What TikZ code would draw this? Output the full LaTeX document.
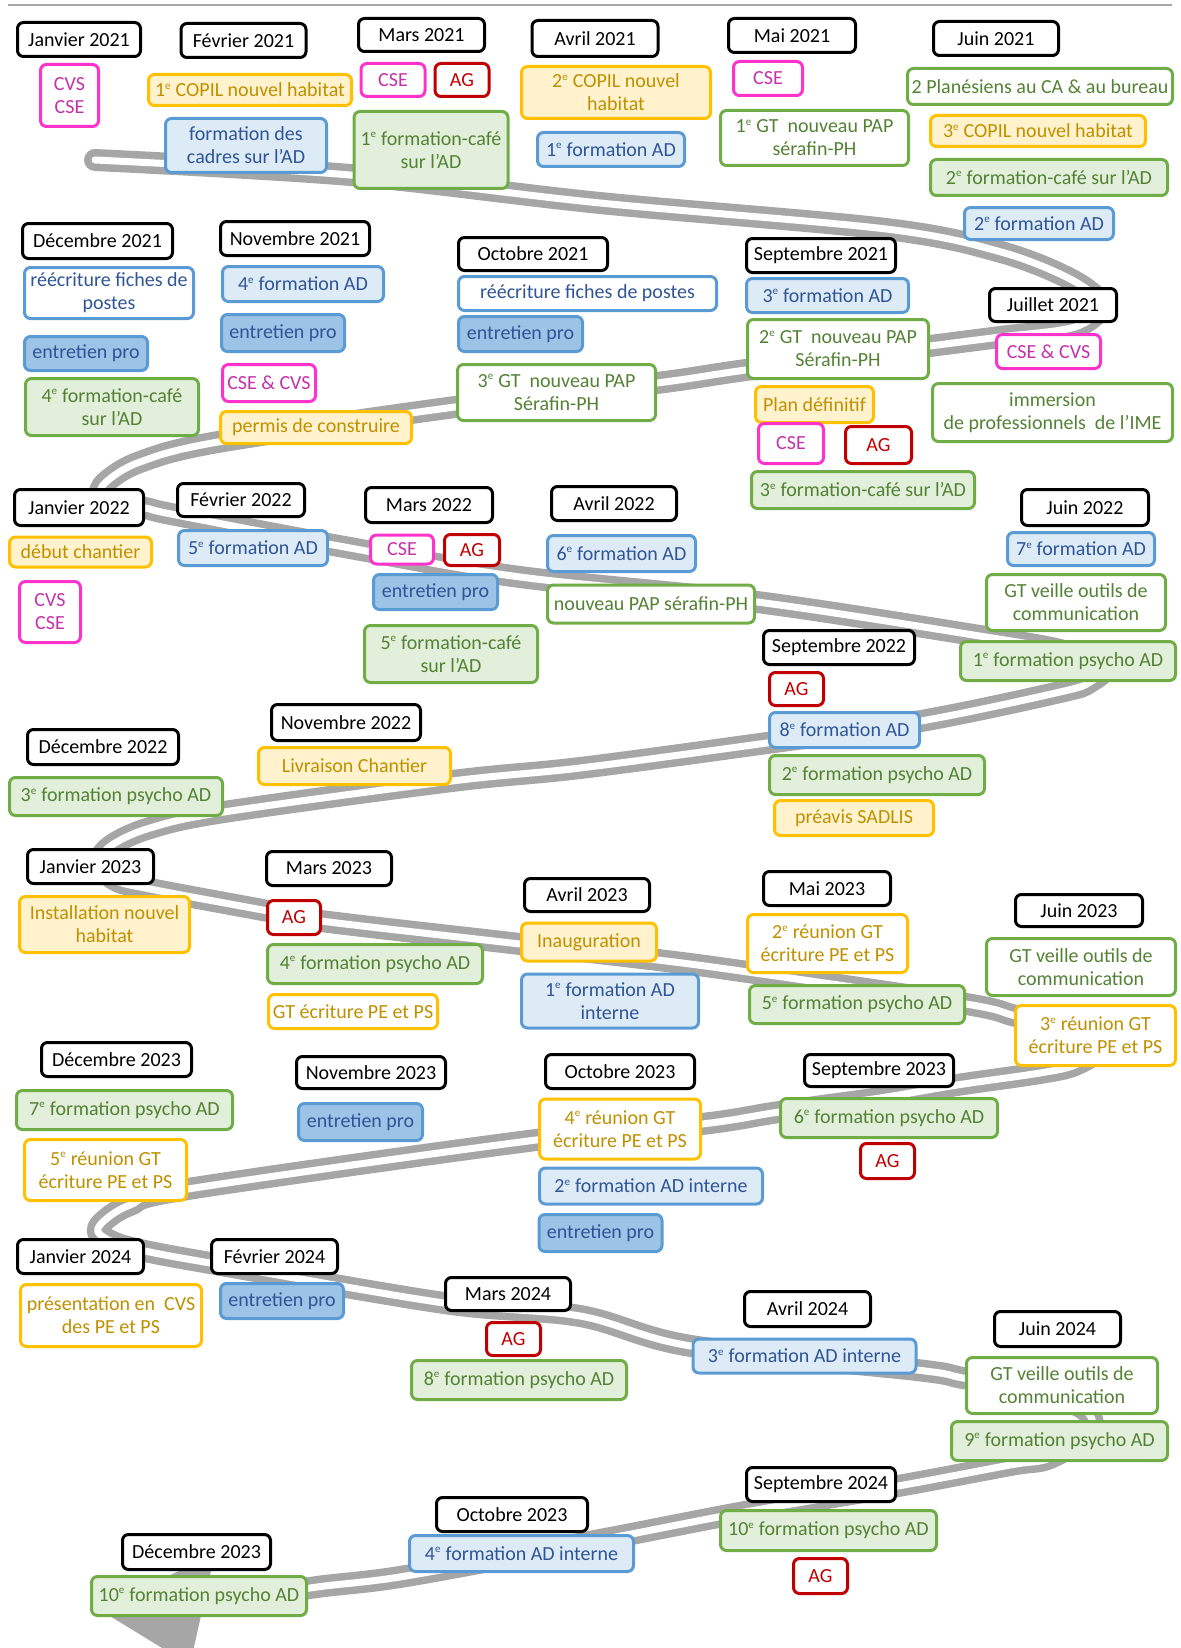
\documentclass[tikz,border=0pt]{standalone}
\usepackage{fontspec}
\setmainfont{Carlito}
\usetikzlibrary{positioning, calc}

\definecolor{roadgray}{RGB}{166,166,166}
\definecolor{pinkline}{RGB}{255,51,204}
\definecolor{pinktext}{RGB}{196,50,170}
\definecolor{agred}{RGB}{192,0,0}
\definecolor{orangeline}{RGB}{255,192,0}
\definecolor{orangefill}{RGB}{255,242,204}
\definecolor{orangetext}{RGB}{191,144,0}
\definecolor{greenline}{RGB}{112,173,71}
\definecolor{greenfill}{RGB}{226,239,218}
\definecolor{greentext}{RGB}{84,130,53}
\definecolor{blueline}{RGB}{91,155,213}
\definecolor{bluefill}{RGB}{221,235,247}
\definecolor{bluedark}{RGB}{157,195,230}
\definecolor{bluetext}{RGB}{47,85,151}

\newcommand{\eme}{\textsuperscript{\fontsize{11}{11}\selectfont e}}
\newcommand{\cadrefont}{\fontsize{20}{23}\selectfont}

\begin{document}
\begin{tikzpicture}[x=1pt, y=-1pt,
    box/.style={draw, rounded corners=6pt, line width=3pt, align=center, inner sep=1pt, font=\cadrefont},
    mois/.style={box, draw=black, fill=white, text=black},
    cvs/.style={box, draw=pinkline, fill=white, text=pinktext},
    ag/.style={box, draw=agred, fill=white, text=agred},
    copil/.style={box, draw=orangeline, fill=orangefill, text=orangetext},
    reunion/.style={box, draw=orangeline, fill=white, text=orangetext},
    cafe/.style={box, draw=greenline, fill=greenfill, text=greentext},
    gt/.style={box, draw=greenline, fill=white, text=greentext},
    formad/.style={box, draw=blueline, fill=bluefill, text=bluetext},
    entretien/.style={box, draw=blueline, fill=bluedark, text=bluetext},
    fiche/.style={box, draw=blueline, fill=white, text=bluetext},
    sz/.style 2 args={minimum width=#1pt, minimum height=#2pt}]

  \useasboundingbox (0,0) rectangle (1180,1648);
  \clip (0,0) rectangle (1180,1648);

  \draw[roadgray, line width=2pt] (8,5) -- (1172,5);

  \draw[roadgray, line width=7.5pt, double=white, double distance=7pt, line cap=round, line join=round]
    plot[smooth, tension=0.55] coordinates {
      (95,160) (350,175) (600,203) (886,229) (1001,252) (1072,280) (1100,305) (1075,327) (1000,337)
      (930,346) (746,370) (657,383) (455,407) (218,442) (140,462) (106,482) (100,497) (115,505) (145,508)
      (176,515) (350,548) (520,577) (757,602) (986,637) (1060,650) (1105,665) (1090,682) (1060,692)
      (921,721) (767,743) (580,768) (452,781) (224,812) (150,828) (112,845) (100,862) (115,880) (150,889)
      (268,911) (321,921) (520,944) (658,960) (748,972) (966,1004) (1016,1016) (1080,1030) (1100,1048) (1075,1065) (1040,1073)
      (957,1085) (880,1098) (779,1112) (702,1124) (536,1140) (188,1189) (130,1205) (105,1220) (98,1232) (115,1243) (145,1251)
      (210,1263) (444,1303) (580,1316) (691,1346) (917,1370) (963,1378) (1040,1392) (1085,1410) (1090,1432) (1050,1458) (1010,1465)
      (898,1486) (745,1512) (600,1540) (406,1576) (310,1588) (210,1606)};
  \fill[roadgray] (100,1610) -- (215,1553) -- (190,1665) -- cycle;

  \node[mois, sz={123}{34}] (jan21) at (79,39.5) {Janvier 2021};
  \node[cvs, sz={58}{62}] (jan21a) at (69.5,95.5) {CVS\\CSE};
  \node[mois, sz={125}{34}] (fev21) at (243.5,40.5) {Février 2021};
  \node[copil, sz={203}{31}] (fev21a) at (250,90) {1\eme{} COPIL nouvel habitat};
  \node[formad, sz={161}{54}] (fev21b) at (246,145.5) {formation des\\cadres sur l’AD};
  \node[mois, sz={126}{33}] (mar21) at (421.5,35) {Mars 2021};
  \node[cvs, sz={64}{33}] (mar21a) at (393,80) {CSE};
  \node[ag, sz={54}{33}] (mar21b) at (462,80) {AG};
  \node[cafe, sz={154}{77}] (mar21c) at (431,150) {1\eme{} formation-café\\sur l’AD};
  \node[mois, sz={126}{36}] (avr21) at (595,38.5) {Avril 2021};
  \node[copil, sz={189}{52}] (avr21a) at (616,92.5) {2\eme{} COPIL nouvel\\habitat};
  \node[formad, sz={147}{34}] (avr21b) at (611,149.5) {1\eme{} formation AD};
  \node[mois, sz={127}{34}] (mai21) at (792,35.5) {Mai 2021};
  \node[cvs, sz={69}{34}] (mai21a) at (768,78.5) {CSE};
  \node[gt, sz={188}{55}] (mai21b) at (814.5,138) {1\eme{} GT\ \ nouveau PAP\\sérafin-PH};
  \node[mois, sz={125}{34}] (jun21) at (996,38.5) {Juin 2021};
  \node[gt, sz={265}{36}] (jun21a) at (1040,86.5) {2 Planésiens au CA \& au bureau};
  \node[copil, sz={215}{31}] (jun21b) at (1038,131) {3\eme{} COPIL nouvel habitat};
  \node[cafe, sz={237}{36}] (jun21c) at (1049,177.5) {2\eme{} formation-café sur l’AD};
  \node[formad, sz={149}{32}] (jun21d) at (1039,223.5) {2\eme{} formation AD};

  \node[mois, sz={127}{33}] (jul21) at (1053,305) {Juillet 2021};
  \node[cvs, sz={104}{34}] (jul21a) at (1048.5,351.5) {CSE \& CVS};
  \node[gt, sz={240}{58}] (jul21b) at (1052.5,412.5) {immersion\\de professionnels\ \ de l’IME};
  \node[mois, sz={149}{34}] (sep21) at (821,255.5) {Septembre 2021};
  \node[formad, sz={162}{34}] (sep21a) at (827.5,295.5) {3\eme{} formation AD};
  \node[gt, sz={181}{59}] (sep21b) at (838,349) {2\eme{} GT\ \ nouveau PAP\\Sérafin-PH};
  \node[copil, sz={118}{36}] (sep21c) at (814.5,404.5) {Plan définitif};
  \node[cvs, sz={65}{40}] (sep21d) at (791,443.5) {CSE};
  \node[ag, sz={66}{37}] (sep21e) at (878.5,445) {AG};
  \node[cafe, sz={223}{37}] (sep21f) at (863,490) {3\eme{} formation-café sur l’AD};
  \node[mois, sz={149}{33}] (oct21) at (533,254) {Octobre 2021};
  \node[fiche, sz={258}{34}] (oct21a) at (587.5,293.5) {réécriture fiches de postes};
  \node[entretien, sz={124}{35}] (oct21b) at (520.5,334) {entretien pro};
  \node[gt, sz={198}{56}] (oct21c) at (556.5,392.5) {3\eme{} GT\ \ nouveau PAP\\Sérafin-PH};
  \node[mois, sz={149}{34}] (nov21) at (295,238.5) {Novembre 2021};
  \node[formad, sz={161}{35}] (nov21a) at (303,284) {4\eme{} formation AD};
  \node[entretien, sz={123}{37}] (nov21b) at (283,333) {entretien pro};
  \node[cvs, sz={93}{37}] (nov21c) at (269,383) {CSE \& CVS};
  \node[copil, sz={191}{32}] (nov21d) at (316,427.5) {permis de construire};
  \node[mois, sz={150}{35}] (dec21) at (97.5,241) {Décembre 2021};
  \node[fiche, sz={169}{51}] (dec21a) at (109,293) {réécriture fiches de\\postes};
  \node[entretien, sz={123}{34}] (dec21b) at (86,353.5) {entretien pro};
  \node[cafe, sz={173}{57}] (dec21c) at (112,407) {4\eme{} formation-café\\sur l’AD};

  \node[mois, sz={129}{36}] (jan22) at (79,507.5) {Janvier 2022};
  \node[copil, sz={142}{30}] (jan22a) at (80.5,552) {début chantier};
  \node[cvs, sz={61}{61}] (jan22b) at (50,612) {CVS\\CSE};
  \node[mois, sz={127}{33}] (fev22) at (241,500) {Février 2022};
  \node[formad, sz={149}{35}] (fev22a) at (253,548) {5\eme{} formation AD};
  \node[mois, sz={127}{35}] (mar22) at (429,505) {Mars 2022};
  \node[cvs, sz={63}{29}] (mar22a) at (402,549.5) {CSE};
  \node[ag, sz={55}{31}] (mar22b) at (472,550) {AG};
  \node[entretien, sz={124}{35}] (mar22c) at (435.5,592) {entretien pro};
  \node[cafe, sz={173}{57}] (mar22d) at (451,654) {5\eme{} formation-café\\sur l’AD};
  \node[mois, sz={125}{34}] (avr22) at (614,503.5) {Avril 2022};
  \node[formad, sz={148}{36}] (avr22a) at (621.5,553.5) {6\eme{} formation AD};
  \node[gt, sz={207}{38}] (avr22b) at (651,604) {nouveau PAP sérafin-PH};
  \node[mois, sz={127}{36}] (jun22) at (1085,507.5) {Juin 2022};
  \node[formad, sz={147}{33}] (jun22a) at (1081,549) {7\eme{} formation AD};
  \node[gt, sz={179}{56}] (jun22b) at (1076,602.5) {GT veille outils de\\communication};
  \node[cafe, sz={215}{39}] (jun22c) at (1068,661) {1\eme{} formation psycho AD};

  \node[mois, sz={151}{34}] (sep22) at (839,647.5) {Septembre 2022};
  \node[ag, sz={54}{33}] (sep22a) at (796.5,689) {AG};
  \node[formad, sz={150}{35}] (sep22b) at (844.5,730) {8\eme{} formation AD};
  \node[cafe, sz={215}{39}] (sep22c) at (877,775) {2\eme{} formation psycho AD};
  \node[copil, sz={159}{35}] (sep22d) at (854,818) {préavis SADLIS};
  \node[mois, sz={149}{36}] (nov22) at (346,722.5) {Novembre 2022};
  \node[copil, sz={192}{37}] (nov22a) at (354.5,766) {Livraison Chantier};
  \node[mois, sz={151}{35}] (dec22) at (103,747) {Décembre 2022};
  \node[cafe, sz={213}{38}] (dec22a) at (116,796.5) {3\eme{} formation psycho AD};

  \node[mois, sz={126}{34}] (jan23) at (90.5,866.5) {Janvier 2023};
  \node[copil, sz={170}{56}] (jan23a) at (104.5,924.5) {Installation nouvel\\habitat};
  \node[mois, sz={125}{34}] (mar23) at (329,868.5) {Mars 2023};
  \node[ag, sz={53}{34}] (mar23a) at (294,917.5) {AG};
  \node[cafe, sz={215}{39}] (mar23b) at (375,964) {4\eme{} formation psycho AD};
  \node[reunion, sz={169}{34}] (mar23c) at (353,1011.5) {GT écriture PE et PS};
  \node[mois, sz={125}{33}] (avr23) at (587,895) {Avril 2023};
  \node[copil, sz={135}{38}] (avr23a) at (589,942) {Inauguration};
  \node[formad, sz={177}{54}] (avr23b) at (610,1001) {1\eme{} formation AD\\interne};
  \node[mois, sz={127}{34}] (mai23) at (827,888.5) {Mai 2023};
  \node[reunion, sz={160}{58}] (mai23a) at (827.5,943.5) {2\eme{} réunion GT\\écriture PE et PS};
  \node[cafe, sz={215}{38}] (mai23b) at (857,1004.5) {5\eme{} formation psycho AD};
  \node[mois, sz={127}{32}] (jun23) at (1079,910.5) {Juin 2023};
  \node[gt, sz={189}{57}] (jun23a) at (1081,967) {GT veille outils de\\communication};
  \node[reunion, sz={160}{60}] (jun23b) at (1095.5,1035.5) {3\eme{} réunion GT\\écriture PE et PS};

  \node[mois, sz={149}{32}] (sep23) at (879,1070.5) {Septembre 2023};
  \node[cafe, sz={217}{39}] (sep23a) at (889,1118) {6\eme{} formation psycho AD};
  \node[ag, sz={54}{35}] (sep23b) at (887.5,1161) {AG};
  \node[mois, sz={149}{34}] (oct23) at (620,1071.5) {Octobre 2023};
  \node[reunion, sz={161}{60}] (oct23a) at (620,1129) {4\eme{} réunion GT\\écriture PE et PS};
  \node[formad, sz={223}{36}] (oct23b) at (651,1186) {2\eme{} formation AD interne};
  \node[entretien, sz={123}{37}] (oct23c) at (600.5,1233) {entretien pro};
  \node[mois, sz={149}{32}] (nov23) at (371,1072.5) {Novembre 2023};
  \node[entretien, sz={124}{37}] (nov23a) at (360.5,1122) {entretien pro};
  \node[mois, sz={150}{34}] (dec23) at (116.5,1059.5) {Décembre 2023};
  \node[cafe, sz={216}{39}] (dec23a) at (124.5,1110) {7\eme{} formation psycho AD};
  \node[reunion, sz={162}{61}] (dec23b) at (105.5,1170) {5\eme{} réunion GT\\écriture PE et PS};

  \node[mois, sz={126}{34}] (jan24) at (80.5,1256.5) {Janvier 2024};
  \node[reunion, sz={181}{62}] (jan24a) at (111,1315.5) {présentation en\ \ CVS\\des PE et PS};
  \node[mois, sz={126}{34}] (fev24) at (274.5,1256.5) {Février 2024};
  \node[entretien, sz={123}{35}] (fev24a) at (282,1301) {entretien pro};
  \node[mois, sz={125}{33}] (mar24) at (508,1294) {Mars 2024};
  \node[ag, sz={54}{33}] (mar24a) at (513.5,1339) {AG};
  \node[cafe, sz={215}{39}] (mar24b) at (519,1380) {8\eme{} formation psycho AD};
  \node[mois, sz={126}{35}] (avr24) at (807.5,1309) {Avril 2024};
  \node[formad, sz={223}{34}] (avr24a) at (804.5,1356) {3\eme{} formation AD interne};
  \node[mois, sz={126}{35}] (jun24) at (1057.5,1329) {Juin 2024};
  \node[gt, sz={191}{56}] (jun24a) at (1062,1385.5) {GT veille outils de\\communication};
  \node[cafe, sz={216}{39}] (jun24b) at (1059.5,1441) {9\eme{} formation psycho AD};

  \node[mois, sz={149}{34}] (sep24) at (821,1484.5) {Septembre 2024};
  \node[cafe, sz={216}{40}] (sep24a) at (828.5,1530.5) {10\eme{} formation psycho AD};
  \node[ag, sz={54}{35}] (sep24b) at (820.5,1576) {AG};
  \node[mois, sz={151}{34}] (octfin) at (512,1514.5) {Octobre 2023};
  \node[formad, sz={224}{36}] (octfina) at (521.5,1553.5) {4\eme{} formation AD interne};
  \node[mois, sz={148}{35}] (decfin) at (196.5,1552) {Décembre 2023};
  \node[cafe, sz={215}{39}] (decfina) at (199,1596) {10\eme{} formation psycho AD};

\end{tikzpicture}
\end{document}
